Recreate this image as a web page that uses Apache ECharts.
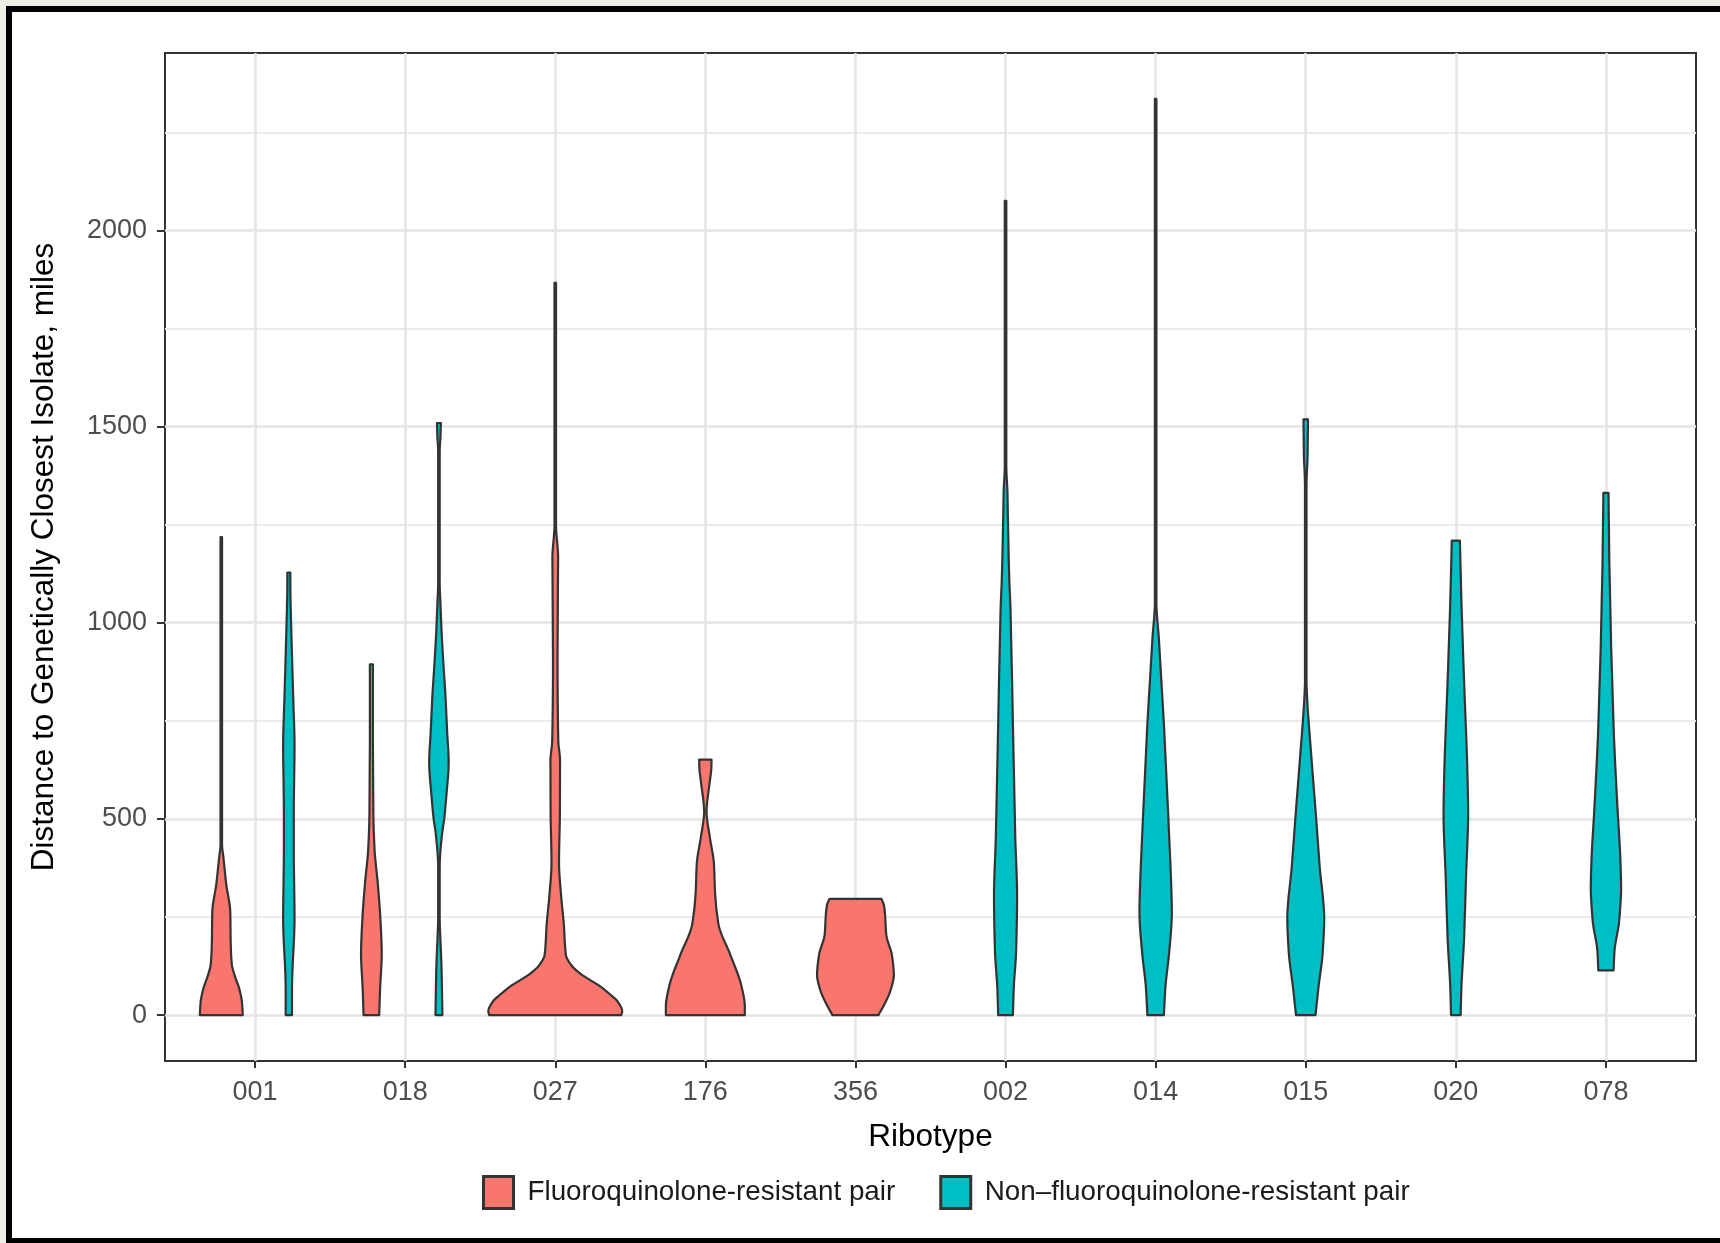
<!DOCTYPE html>
<html><head><meta charset="utf-8">
<script src="https://cdn.jsdelivr.net/npm/echarts@6/dist/echarts.min.js"></script>
<style>
html,body{margin:0;padding:0;background:#eeede6;overflow:hidden;width:1720px;height:1243px;}
#frame{position:absolute;left:6px;top:6px;width:1708px;height:1226px;background:#fff;border-left:6px solid #000;border-top:6px solid #000;border-bottom:5px solid #000;}
#chart{position:absolute;left:0;top:0;width:1720px;height:1243px;}
</style></head><body><div id="frame"></div><div id="chart"></div>
<script>
// ---------- data ----------
const ribotypes = ['001','018','027','176','356','002','014','015','020','078'];
const groupNames = ['Fluoroquinolone-resistant pair', 'Non\u2013fluoroquinolone-resistant pair'];
const groupColors = ['#F8766D', '#00BFC4'];
const yTickValues = [0, 500, 1000, 1500, 2000];
const yMinorValues = [250, 750, 1250, 1750, 2250];

// violin outlines: distance (miles) and half-width (fraction of one ribotype slot)
const r001R_dist = [0, 32, 67, 100, 130, 180, 263, 334, 406, 433, 1218];
const r001R_half = [0.143, 0.138, 0.120, 0.090, 0.070, 0.063, 0.060, 0.033, 0.013, 0.005, 0.005];
const r001N_dist = [0, 67, 245, 423, 512, 690, 800, 1000, 1100, 1128];
const r001N_half = [0.021, 0.021, 0.038, 0.033, 0.033, 0.038, 0.030, 0.015, 0.010, 0.010];
const r018R_dist = [0, 67, 156, 245, 334, 423, 512, 700, 894];
const r018R_half = [0.052, 0.058, 0.069, 0.060, 0.043, 0.021, 0.013, 0.010, 0.010];
const r018N_dist = [0, 112, 201, 245, 380, 406, 468, 499, 557, 644, 720, 804, 889, 975, 1059, 1100, 1440, 1470, 1509];
const r018N_half = [0.023, 0.018, 0.009, 0.005, 0.005, 0.008, 0.023, 0.035, 0.049, 0.065, 0.055, 0.045, 0.031, 0.018, 0.009, 0.005, 0.005, 0.010, 0.013];
const r027R_dist = [0, 10, 36, 55, 75, 88, 102, 114, 127, 153, 232, 309, 387, 518, 648, 700, 909, 1168, 1247, 1866];
const r027R_half = [0.440, 0.446, 0.413, 0.358, 0.293, 0.238, 0.180, 0.140, 0.107, 0.071, 0.057, 0.038, 0.025, 0.031, 0.032, 0.020, 0.015, 0.019, 0.005, 0.005];
const r176R_dist = [0, 23, 75, 153, 232, 309, 387, 453, 518, 596, 630, 651];
const r176R_half = [0.263, 0.263, 0.240, 0.167, 0.087, 0.065, 0.057, 0.030, 0.008, 0.030, 0.040, 0.041];
const r356R_dist = [0, 23, 62, 102, 153, 205, 257, 280, 296];
const r356R_half = [0.153, 0.187, 0.233, 0.256, 0.243, 0.205, 0.197, 0.190, 0.173];
const r002N_dist = [0, 71, 159, 305, 450, 743, 1035, 1110, 1280, 1330, 1400, 2075];
const r002N_half = [0.049, 0.055, 0.070, 0.077, 0.065, 0.049, 0.033, 0.025, 0.015, 0.013, 0.005, 0.005];
const r014N_dist = [0, 71, 159, 261, 378, 524, 743, 962, 1050, 2335];
const r014N_half = [0.055, 0.065, 0.090, 0.108, 0.099, 0.082, 0.055, 0.021, 0.005, 0.005];
const r015N_dist = [0, 71, 159, 247, 378, 524, 670, 817, 850, 1350, 1380, 1420, 1518];
const r015N_half = [0.065, 0.085, 0.113, 0.123, 0.093, 0.065, 0.035, 0.008, 0.005, 0.005, 0.007, 0.012, 0.015];
const r020N_dist = [0, 70, 196, 354, 513, 619, 830, 1041, 1209];
const r020N_half = [0.032, 0.037, 0.055, 0.068, 0.082, 0.077, 0.057, 0.038, 0.027];
const r078N_dist = [114, 164, 239, 323, 407, 513, 724, 935, 1146, 1331];
const r078N_half = [0.051, 0.057, 0.088, 0.101, 0.095, 0.079, 0.052, 0.035, 0.023, 0.017];

const violins = [
  {ribotype: '001', group: 0, dist: r001R_dist, half: r001R_half},
  {ribotype: '001', group: 1, dist: r001N_dist, half: r001N_half},
  {ribotype: '018', group: 0, dist: r018R_dist, half: r018R_half},
  {ribotype: '018', group: 1, dist: r018N_dist, half: r018N_half},
  {ribotype: '027', group: 0, dist: r027R_dist, half: r027R_half},
  {ribotype: '176', group: 0, dist: r176R_dist, half: r176R_half},
  {ribotype: '356', group: 0, dist: r356R_dist, half: r356R_half},
  {ribotype: '002', group: 1, dist: r002N_dist, half: r002N_half},
  {ribotype: '014', group: 1, dist: r014N_dist, half: r014N_half},
  {ribotype: '015', group: 1, dist: r015N_dist, half: r015N_half},
  {ribotype: '020', group: 1, dist: r020N_dist, half: r020N_half},
  {ribotype: '078', group: 1, dist: r078N_dist, half: r078N_half}
];

// ---------- build ----------
const FONT = '"Liberation Sans", Arial, Helvetica, sans-serif';
const DODGE = 0.45;
function xCenter(v) {
  const pos = ribotypes.indexOf(v.ribotype) + 1;
  const same = violins.filter(o => o.ribotype === v.ribotype);
  const k = same.indexOf(v);
  return pos + (k - (same.length - 1) / 2) * DODGE;
}
const groupViolins = groupNames.map((_, g) => violins.filter(v => v.group === g));

// monotone (Fritsch-Butland) tangents of half-width as a function of distance
function tangents(d, w) {
  const n = d.length, m = new Array(n).fill(0), s = [];
  for (let i = 0; i < n - 1; i++) s.push((w[i + 1] - w[i]) / (d[i + 1] - d[i]));
  if (n < 2) return m;
  m[0] = s[0]; m[n - 1] = s[n - 2];
  for (let i = 1; i < n - 1; i++) {
    if (s[i - 1] * s[i] <= 0) { m[i] = 0; continue; }
    const h0 = d[i] - d[i - 1], h1 = d[i + 1] - d[i];
    const a = 2 * h1 + h0, b = h1 + 2 * h0;
    m[i] = (a + b) / (a / s[i - 1] + b / s[i]);
  }
  // keep end tangents from overshooting
  if (n > 2) {
    if (m[0] * s[0] < 0) m[0] = 0;
    if (m[n - 1] * s[n - 2] < 0) m[n - 1] = 0;
  }
  return m;
}

function makeRender(g) {
  return function (params, api) {
    const v = groupViolins[g][params.dataIndex];
    const xc = api.value(0);
    const d = v.dist, w = v.half, n = d.length;
    const m = tangents(d, w);
    const P = (side, ww, dd) => { const p = api.coord([xc + side * ww, dd]); return p[0].toFixed(2) + ' ' + p[1].toFixed(2); };
    let path = 'M' + P(-1, w[0], d[0]);
    for (let i = 0; i < n - 1; i++) {
      const h = d[i + 1] - d[i];
      path += ' C' + P(-1, w[i] + m[i] * h / 3, d[i] + h / 3) + ' ' + P(-1, w[i + 1] - m[i + 1] * h / 3, d[i + 1] - h / 3) + ' ' + P(-1, w[i + 1], d[i + 1]);
    }
    path += ' L' + P(1, w[n - 1], d[n - 1]);
    for (let i = n - 2; i >= 0; i--) {
      const h = d[i + 1] - d[i];
      path += ' C' + P(1, w[i + 1] - m[i + 1] * h / 3, d[i + 1] - h / 3) + ' ' + P(1, w[i] + m[i] * h / 3, d[i] + h / 3) + ' ' + P(1, w[i], d[i]);
    }
    path += ' Z';
    return {
      type: 'path',
      shape: {pathData: path},
      style: {fill: groupColors[g], stroke: '#333333', lineWidth: 2.2, lineJoin: 'round'}
    };
  };
}

const gridLines = []
  .concat(yMinorValues.map(v => ({yAxis: v, lineStyle: {color: '#ebebeb', width: 2}})))
  .concat(yTickValues.map(v => ({yAxis: v, lineStyle: {color: '#e5e5e5', width: 2.5}})))
  .concat(ribotypes.map((_, i) => ({xAxis: i + 1, lineStyle: {color: '#e5e5e5', width: 2.5}})));

const series = groupNames.map((name, g) => {
  const s = {
    type: 'custom',
    name: name,
    z: 3,
    itemStyle: {color: groupColors[g], borderColor: '#333', borderWidth: 2},
    renderItem: makeRender(g),
    encode: {x: 0, y: [1, 2]},
    data: groupViolins[g].map(v => [xCenter(v), v.dist[0], v.dist[v.dist.length - 1]]),
    silent: true
  };
  if (g === 0) {
    s.markLine = {
      silent: true, z: 1, animation: false,
      symbol: ['none', 'none'],
      label: {show: false},
      emphasis: {disabled: true},
      lineStyle: {type: 'solid'},
      data: gridLines
    };
  }
  return s;
});

const xTickVals = ribotypes.map((_, i) => i + 1);
const chart = echarts.init(document.getElementById('chart'), null, {renderer: 'canvas'});
chart.setOption({
  animation: false,
  backgroundColor: 'transparent',
  textStyle: {fontFamily: FONT},
  grid: {left: 165, top: 53, right: 24, bottom: 182, show: true, backgroundColor: '#ffffff', borderColor: '#333333', borderWidth: 2},
  legend: {
    left: 477, top: 1170,
    orient: 'horizontal',
    itemWidth: 30, itemHeight: 32, itemGap: 44,
    selectedMode: false,
    textStyle: {fontSize: 27.8, color: '#1a1a1a', fontFamily: FONT, padding: [0, 0, 0, 9]},
    data: groupNames.map((n, g) => ({name: n, icon: 'rect', itemStyle: {color: groupColors[g], borderColor: '#333333', borderWidth: 3}}))
  },
  xAxis: {
    type: 'value', min: 0.4, max: 10.6,
    axisLine: {show: true, onZero: false, lineStyle: {color: '#333333', width: 2}},
    axisTick: {show: true, customValues: xTickVals, length: 7, lineStyle: {color: '#333333', width: 2}},
    axisLabel: {customValues: xTickVals, formatter: v => ribotypes[Math.round(v) - 1], fontSize: 27, color: '#4d4d4d', margin: 18, fontFamily: FONT},
    splitLine: {show: false},
    name: 'Ribotype', nameLocation: 'middle', nameGap: 60,
    nameTextStyle: {fontSize: 31.5, color: '#000000', fontFamily: FONT}
  },
  yAxis: {
    type: 'value', min: -117, max: 2452,
    axisLine: {show: true, onZero: false, lineStyle: {color: '#333333', width: 2}},
    axisTick: {show: true, customValues: yTickValues, length: 8, lineStyle: {color: '#333333', width: 2}},
    axisLabel: {customValues: yTickValues, formatter: v => String(v), fontSize: 27, color: '#4d4d4d', margin: 18, fontFamily: FONT},
    splitLine: {show: false},
    name: 'Distance to Genetically Closest Isolate, miles', nameLocation: 'middle', nameGap: 105,
    nameTextStyle: {fontSize: 31.5, color: '#000000', fontFamily: FONT}
  },
  series: series
});
</script></body></html>
